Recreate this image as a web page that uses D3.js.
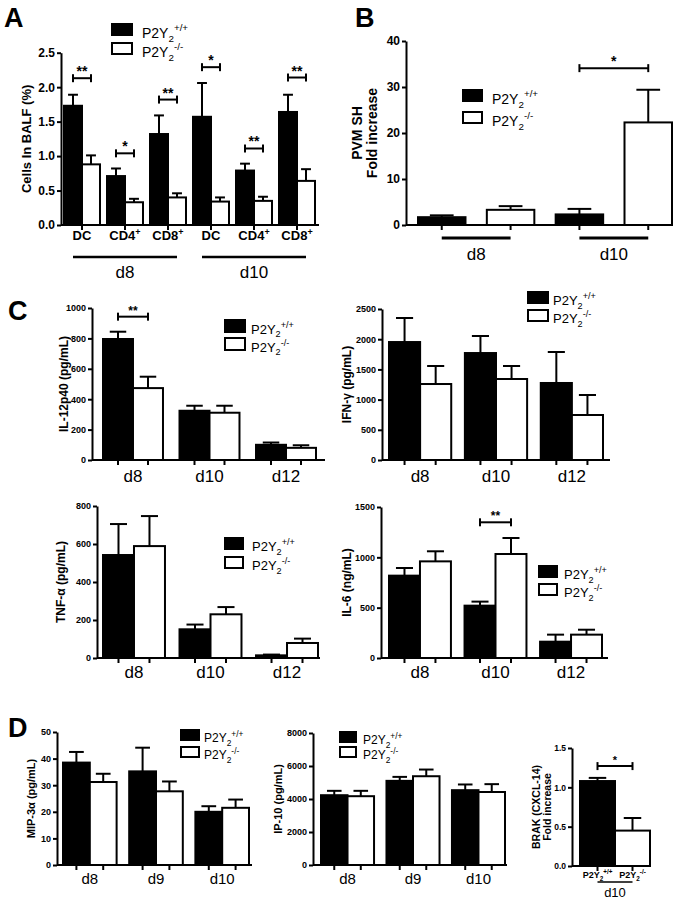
<!DOCTYPE html>
<html><head><meta charset="utf-8">
<script src="https://cdn.jsdelivr.net/npm/d3@7"></script>
<style>body{margin:0;background:#fff}svg{display:block}</style>
</head><body><svg id="c" width="689" height="901"></svg>
<script>
// ---------------- data ----------------
const genotypes = ["wt", "ko"];
const genotypeSup = ["+/+", "-/-"];

// Panel A
const aCells = ["DC", "CD4", "CD8", "DC", "CD4", "CD8"];
const aCellSup = ["", "+", "+", "", "+", "+"];
const aDayOf = ["d8", "d8", "d8", "d10", "d10", "d10"];
const aDays = ["d8", "d10"];
const aWT = [1.73, 0.71, 1.32, 1.57, 0.79, 1.64];
const aWTsem = [0.16, 0.11, 0.27, 0.49, 0.10, 0.25];
const aKO = [0.88, 0.33, 0.40, 0.34, 0.35, 0.64];
const aKOsem = [0.13, 0.05, 0.06, 0.06, 0.06, 0.17];
const aSig = ["**", "*", "**", "*", "**", "**"];
const aSigAt = [2.13, 1.04, 1.82, 2.29, 1.11, 2.14];
const aTicks = [0, 0.5, 1.0, 1.5, 2.0, 2.5];

// Panel B
const bDays = ["d8", "d10"];
const bWT = [1.7, 2.3];
const bWTsem = [0.4, 1.2];
const bKO = [3.3, 22.3];
const bKOsem = [0.8, 7.1];
const bSig = "*";
const bSigAt = 34.1;
const bTicks = [0, 10, 20, 30, 40];

// Panel C
const cDays = ["d8", "d10", "d12"];
const il12WT = [796, 324, 100], il12WTsem = [48, 33, 15];
const il12KO = [473, 311, 80], il12KOsem = [75, 46, 17];
const il12Ticks = [0, 200, 400, 600, 800, 1000];
const ifnWT = [1953, 1771, 1275], ifnWTsem = [398, 282, 513];
const ifnKO = [1258, 1341, 745], ifnKOsem = [298, 215, 331];
const ifnTicks = [0, 500, 1000, 1500, 2000, 2500];
const tnfWT = [542, 151, 14], tnfWTsem = [163, 25, 4];
const tnfKO = [589, 230, 79], tnfKOsem = [158, 38, 23];
const tnfTicks = [0, 200, 400, 600, 800];
const il6WT = [818, 520, 162], il6WTsem = [76, 40, 70];
const il6KO = [960, 1033, 232], il6KOsem = [100, 159, 49];
const il6Ticks = [0, 500, 1000, 1500];

// Panel D
const dDays = ["d8", "d9", "d10"];
const mipWT = [38.5, 35.2, 20.0], mipWTsem = [4.0, 8.9, 2.1];
const mipKO = [31.2, 27.7, 21.5], mipKOsem = [3.1, 3.7, 3.1];
const mipTicks = [0, 10, 20, 30, 40, 50];
const ipWT = [4230, 5100, 4535], ipWTsem = [265, 240, 345];
const ipKO = [4170, 5380, 4424], ipKOsem = [325, 405, 476];
const ipTicks = [0, 2000, 4000, 6000, 8000];
const brakDay = ["d10"];
const brakWT = [1.08], brakWTsem = [0.04];
const brakKO = [0.45], brakKOsem = [0.16];
const brakTicks = [0, 0.5, 1.0, 1.5];

// ---------------- drawing ----------------
const F = '"Liberation Sans", Arial, Helvetica, sans-serif';
const svg = d3.select("#c").attr("font-family", F);

function geno(sel, k, fs) {
  sel.append("tspan").text("P2Y");
  sel.append("tspan").attr("font-size", fs * 0.7).attr("dy", fs * 0.28).text("2");
  sel.append("tspan").attr("font-size", fs * 0.7).attr("dy", -fs * 0.75).text(genotypeSup[k]);
}

function yAxis(g, y, ax, ticks, fmt, fs) {
  const a = d3.axisLeft(y).tickValues(ticks).tickFormat(d3.format(fmt))
    .tickSize(4).tickSizeOuter(0).tickPadding(2);
  const gg = g.append("g").attr("transform", `translate(${ax},0)`).call(a);
  gg.attr("font-family", F);
  gg.select(".domain").attr("stroke", "#000").attr("stroke-width", 2);
  gg.selectAll(".tick line").attr("stroke", "#000").attr("stroke-width", 2);
  gg.selectAll(".tick text").attr("font-size", fs).attr("font-weight", "bold").attr("fill", "#000");
}

function legend(g, L) {
  [0, 1].forEach(k => {
    const yy = k === 0 ? L.y1 : L.y2;
    g.append("rect").attr("x", L.x).attr("y", yy).attr("width", L.w).attr("height", L.h)
      .attr("fill", k === 0 ? "#000" : "#fff").attr("stroke", "#000").attr("stroke-width", 2);
    const t = g.append("text").attr("x", L.tx).attr("y", yy + L.h / 2 + L.fs * 0.6)
      .attr("font-size", L.fs).attr("fill", "#000");
    geno(t, k, L.fs);
  });
}

function bracket(g, x1, x2, yy, txt, fs) {
  g.append("line").attr("x1", x1).attr("x2", x2).attr("y1", yy).attr("y2", yy)
    .attr("stroke", "#000").attr("stroke-width", 2);
  [x1, x2].forEach(xx => g.append("line").attr("x1", xx).attr("x2", xx)
    .attr("y1", yy - 4).attr("y2", yy + 4).attr("stroke", "#000").attr("stroke-width", 2));
  g.append("text").attr("x", (x1 + x2) / 2).attr("y", yy - 2).attr("text-anchor", "middle")
    .attr("font-size", fs).attr("font-weight", "bold").text(txt);
}

function drawBars(g, rows, y, y0, capFrac) {
  g.selectAll("line.eb").data(rows).join("line").attr("class", "eb")
    .attr("x1", d => d.x + d.w / 2).attr("x2", d => d.x + d.w / 2)
    .attr("y1", d => y(d.v)).attr("y2", d => y(d.v + d.e))
    .attr("stroke", "#000").attr("stroke-width", 2);
  g.selectAll("line.ec").data(rows).join("line").attr("class", "ec")
    .attr("x1", d => d.x + d.w / 2 - d.w * capFrac / 2).attr("x2", d => d.x + d.w / 2 + d.w * capFrac / 2)
    .attr("y1", d => y(d.v + d.e)).attr("y2", d => y(d.v + d.e))
    .attr("stroke", "#000").attr("stroke-width", 2);
  g.selectAll("rect.bar").data(rows).join("rect").attr("class", "bar")
    .attr("x", d => d.x).attr("y", d => y(d.v)).attr("width", d => d.w)
    .attr("height", d => y0 - y(d.v))
    .attr("fill", d => d.k === 0 ? "#000" : "#fff").attr("stroke", "#000").attr("stroke-width", 2);
}

function yTitle(g, x, yc, lines, fs) {
  lines.forEach((ln, j) => {
    g.append("text").attr("transform", `translate(${x[j]},${yc}) rotate(-90)`)
      .attr("text-anchor", "middle").attr("font-size", fs).attr("font-weight", "bold").text(ln);
  });
}

function grouped(c) {
  const g = svg.append("g");
  const y = d3.scaleLinear().domain([0, c.ticks[c.ticks.length - 1]]).range([c.y0, c.yTop]);
  const xb = d3.scaleBand().domain(d3.range(c.cats.length)).range([c.r0, c.r1]).paddingInner(c.pi).paddingOuter(0);
  const xg = d3.scaleBand().domain(genotypes).range([0, xb.bandwidth()]);
  const bw = xg.bandwidth();
  const rows = [];
  c.cats.forEach((cat, i) => {
    rows.push({ i, k: 0, x: xb(i) + xg(genotypes[0]), w: bw, v: c.wt[i], e: c.wtSem[i] });
    rows.push({ i, k: 1, x: xb(i) + xg(genotypes[1]), w: bw, v: c.ko[i], e: c.koSem[i] });
  });
  drawBars(g, rows, y, c.y0, c.capFrac || 0.55);
  // x axis
  g.append("line").attr("x1", c.ax).attr("x2", c.xEnd).attr("y1", c.y0).attr("y2", c.y0)
    .attr("stroke", "#000").attr("stroke-width", 2);
  const tickX = c.tickMode === "pair"
    ? c.cats.map((d, i) => xb(i) + xb.bandwidth() / 2)
    : rows.map(d => d.x + d.w / 2);
  g.selectAll("line.xt").data(tickX).join("line").attr("class", "xt")
    .attr("x1", d => d).attr("x2", d => d).attr("y1", c.y0).attr("y2", c.y0 + 5)
    .attr("stroke", "#000").attr("stroke-width", 2);
  yAxis(g, y, c.ax, c.ticks, c.fmt, c.tickFs);
  if (c.labelY) {
    g.selectAll("text.xl").data(c.cats).join("text").attr("class", "xl")
      .attr("x", (d, i) => xb(i) + xb.bandwidth() / 2).attr("y", c.labelY)
      .attr("text-anchor", "middle").attr("font-size", c.labelFs).text(d => d);
  }
  if (c.title) yTitle(g, c.titleX, (c.y0 + c.yTop) / 2, c.title, c.titleFs);
  if (c.legend) legend(g, c.legend);
  (c.sig || []).forEach(s => {
    bracket(g, xb(s.i) + xg(genotypes[0]) + bw / 2, xb(s.i) + xg(genotypes[1]) + bw / 2, y(s.at), s.text, c.sigFs);
  });
  return { g, y, xb, xg, bw };
}

// panel letters
[["A", 4, 27], ["B", 355, 27], ["C", 8, 320], ["D", 8, 737]].forEach(([t, x, yy]) =>
  svg.append("text").attr("x", x).attr("y", yy).attr("font-size", 27).attr("font-weight", "bold").text(t));

// ---- Panel A ----
const A = grouped({
  cats: aCells, wt: aWT, wtSem: aWTsem, ko: aKO, koSem: aKOsem, ticks: aTicks, fmt: ".1f",
  ax: 61, y0: 225, yTop: 52.7, xEnd: 319, r0: 64, r1: 315, pi: 0.163, tickFs: 12, tickMode: "pair",
  title: ["Cells In BALF (%)"], titleX: [31], titleFs: 13,
  legend: { x: 112, y1: 24, y2: 43, w: 20, h: 11, fs: 14, tx: 142 },
  sig: aSig.map((s, i) => ({ i, text: s, at: aSigAt[i] })), sigFs: 14
});
aCells.forEach((c, i) => {
  const t = A.g.append("text").attr("x", A.xb(i) + A.xb.bandwidth() / 2).attr("y", 240)
    .attr("text-anchor", "middle").attr("font-size", 13).attr("font-weight", "bold");
  t.append("tspan").text(c);
  if (aCellSup[i]) t.append("tspan").attr("font-size", 9).attr("dy", -5).text(aCellSup[i]);
});
aDays.forEach(day => {
  const idx = aDayOf.map((d, i) => d === day ? i : -1).filter(i => i >= 0);
  const x1 = A.xb(idx[0]) + A.xg("wt") + A.bw / 2;
  const x2 = A.xb(idx[idx.length - 1]) + A.xg("ko") + A.bw / 2;
  A.g.append("line").attr("x1", x1).attr("x2", x2).attr("y1", 257).attr("y2", 257)
    .attr("stroke", "#000").attr("stroke-width", 2.5);
  A.g.append("text").attr("x", (x1 + x2) / 2).attr("y", 278).attr("text-anchor", "middle")
    .attr("font-size", 17).text(day);
});

// ---- Panel B ----
(function () {
  const g = svg.append("g");
  const y = d3.scaleLinear().domain([0, 40]).range([225, 41]);
  const keys = bDays.flatMap(d => genotypes.map(k => d + "|" + k));
  const xb = d3.scaleBand().domain(keys).range([418, 672]).paddingInner(0.31).paddingOuter(0);
  const rows = [];
  bDays.forEach((d, i) => {
    rows.push({ k: 0, x: xb(d + "|wt"), w: xb.bandwidth(), v: bWT[i], e: bWTsem[i] });
    rows.push({ k: 1, x: xb(d + "|ko"), w: xb.bandwidth(), v: bKO[i], e: bKOsem[i] });
  });
  drawBars(g, rows, y, 225, 0.5);
  g.append("line").attr("x1", 406).attr("x2", 672).attr("y1", 225).attr("y2", 225)
    .attr("stroke", "#000").attr("stroke-width", 2);
  g.selectAll("line.xt").data(rows).join("line").attr("class", "xt")
    .attr("x1", d => d.x + d.w / 2).attr("x2", d => d.x + d.w / 2).attr("y1", 225).attr("y2", 230)
    .attr("stroke", "#000").attr("stroke-width", 2);
  yAxis(g, y, 406, bTicks, "d", 12);
  bDays.forEach(d => {
    const x1 = xb(d + "|wt") + xb.bandwidth() / 2, x2 = xb(d + "|ko") + xb.bandwidth() / 2;
    g.append("line").attr("x1", x1).attr("x2", x2).attr("y1", 238).attr("y2", 238)
      .attr("stroke", "#000").attr("stroke-width", 3);
    g.append("text").attr("x", (x1 + x2) / 2).attr("y", 260).attr("text-anchor", "middle")
      .attr("font-size", 17).text(d);
  });
  bracket(g, xb("d10|wt") + xb.bandwidth() / 2, xb("d10|ko") + xb.bandwidth() / 2, y(bSigAt), bSig, 14);
  legend(g, { x: 463, y1: 90, y2: 112, w: 19, h: 11, fs: 14, tx: 492 });
  yTitle(g, [362, 377], 133, ["PVM SH", "Fold increase"], 14);
})();

// ---- Panel C ----
grouped({
  cats: cDays, wt: il12WT, wtSem: il12WTsem, ko: il12KO, koSem: il12KOsem, ticks: il12Ticks, fmt: "d",
  ax: 92, y0: 460, yTop: 308, xEnd: 325, r0: 103, r1: 316, pi: 0.216, tickFs: 9, tickMode: "bar",
  labelY: 482, labelFs: 17, title: ["IL-12p40 (pg/mL)"], titleX: [68], titleFs: 12,
  legend: { x: 225, y1: 320, y2: 338, w: 20, h: 12, fs: 13, tx: 251 },
  sig: [{ i: 0, text: "**", at: 943 }], sigFs: 12
});
grouped({
  cats: cDays, wt: ifnWT, wtSem: ifnWTsem, ko: ifnKO, koSem: ifnKOsem, ticks: ifnTicks, fmt: "d",
  ax: 382, y0: 460, yTop: 309, xEnd: 610, r0: 389, r1: 603, pi: 0.18, tickFs: 9, tickMode: "bar",
  labelY: 482, labelFs: 17, title: ["IFN-γ (pg/mL)"], titleX: [351], titleFs: 12,
  legend: { x: 528, y1: 292, y2: 310, w: 20, h: 11, fs: 13, tx: 553 }
});
grouped({
  cats: cDays, wt: tnfWT, wtSem: tnfWTsem, ko: tnfKO, koSem: tnfKOsem, ticks: tnfTicks, fmt: "d",
  ax: 97, y0: 658, yTop: 506, xEnd: 320, r0: 103, r1: 318, pi: 0.19, tickFs: 9, tickMode: "bar",
  labelY: 678, labelFs: 17, title: ["TNF-α (pg/mL)"], titleX: [65], titleFs: 12,
  legend: { x: 225, y1: 538, y2: 557, w: 18, h: 11, fs: 13, tx: 252 }
});
grouped({
  cats: cDays, wt: il6WT, wtSem: il6WTsem, ko: il6KO, koSem: il6KOsem, ticks: il6Ticks, fmt: "d",
  ax: 381, y0: 658, yTop: 507, xEnd: 608, r0: 389, r1: 602, pi: 0.18, tickFs: 9, tickMode: "bar",
  labelY: 678, labelFs: 17, title: ["IL-6 (ng/mL)"], titleX: [351], titleFs: 12,
  legend: { x: 539, y1: 566, y2: 584, w: 18, h: 11, fs: 13, tx: 564 },
  sig: [{ i: 1, text: "**", at: 1348 }], sigFs: 12
});

// ---- Panel D ----
grouped({
  cats: dDays, wt: mipWT, wtSem: mipWTsem, ko: mipKO, koSem: mipKOsem, ticks: mipTicks, fmt: "d",
  ax: 57, y0: 865, yTop: 732, xEnd: 252, r0: 63, r1: 249, pi: 0.19, tickFs: 9, tickMode: "bar",
  labelY: 884, labelFs: 15, title: ["MIP-3α (pg/mL)"], titleX: [35], titleFs: 11,
  legend: { x: 181, y1: 730, y2: 747, w: 18, h: 10, fs: 12, tx: 204 }
});
grouped({
  cats: dDays, wt: ipWT, wtSem: ipWTsem, ko: ipKO, koSem: ipKOsem, ticks: ipTicks, fmt: "d",
  ax: 313, y0: 865, yTop: 733, xEnd: 507, r0: 321, r1: 505, pi: 0.19, tickFs: 9, tickMode: "bar",
  labelY: 884, labelFs: 15, title: ["IP-10 (pg/mL)"], titleX: [282], titleFs: 11,
  legend: { x: 340, y1: 732, y2: 747, w: 16, h: 10, fs: 12, tx: 363 }
});
const DR = grouped({
  cats: brakDay, wt: brakWT, wtSem: brakWTsem, ko: brakKO, koSem: brakKOsem, ticks: brakTicks, fmt: ".1f",
  ax: 572, y0: 866, yTop: 748, xEnd: 650, r0: 580, r1: 650, pi: 0, tickFs: 8.5, tickMode: "bar",
  title: ["BRAK (CXCL-14)", "Fold increase"], titleX: [540, 551], titleFs: 10.5,
  sig: [{ i: 0, text: "*", at: 1.27 }], sigFs: 11, capFrac: 0.5
});
genotypes.forEach((k, j) => {
  const t = DR.g.append("text").attr("x", DR.xb(0) + DR.xg(k) + DR.bw / 2).attr("y", 878)
    .attr("text-anchor", "middle").attr("font-size", 9).attr("font-weight", "bold");
  geno(t, j, 9);
});
(function () {
  const x1 = DR.xb(0) + DR.xg("wt") + DR.bw / 2, x2 = DR.xb(0) + DR.xg("ko") + DR.bw / 2;
  DR.g.append("line").attr("x1", x1).attr("x2", x2).attr("y1", 882).attr("y2", 882)
    .attr("stroke", "#000").attr("stroke-width", 1.5);
  DR.g.append("text").attr("x", (x1 + x2) / 2).attr("y", 897).attr("text-anchor", "middle")
    .attr("font-size", 13).text(brakDay[0]);
})();
</script></body></html>
